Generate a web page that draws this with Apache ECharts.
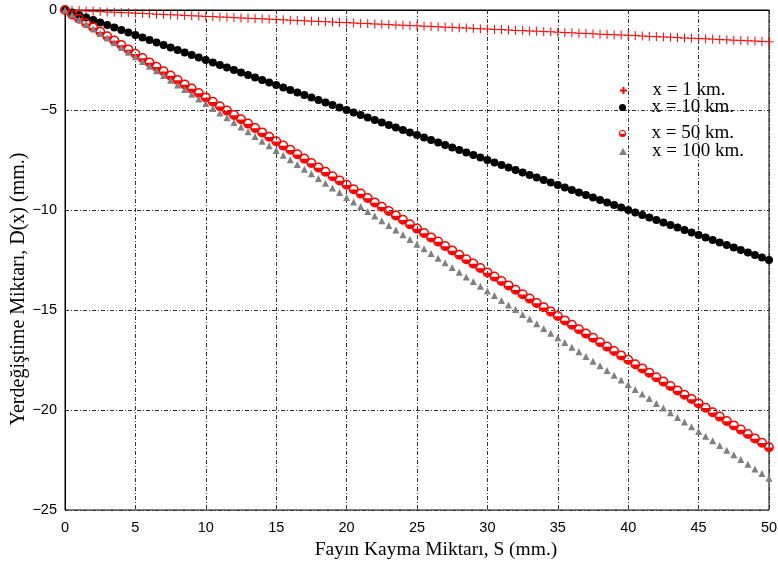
<!DOCTYPE html>
<html>
<head>
<meta charset="utf-8">
<script src="https://cdn.jsdelivr.net/npm/echarts@6/dist/echarts.min.js"></script>
<style>
  html, body { margin: 0; padding: 0; background: #fff; }
  #chart { width: 778px; height: 569px; }
</style>
</head>
<body>
<div id="chart"></div>
<script>
// fay kayma miktari S (mm.)
var slipS = [0,0.5,1,1.5,2,2.5,3,3.5,4,4.5,5,5.5,6,6.5,7,7.5,8,8.5,9,9.5,
  10,10.5,11,11.5,12,12.5,13,13.5,14,14.5,15,15.5,16,16.5,17,17.5,18,18.5,19,19.5,
  20,20.5,21,21.5,22,22.5,23,23.5,24,24.5,25,25.5,26,26.5,27,27.5,28,28.5,29,29.5,
  30,30.5,31,31.5,32,32.5,33,33.5,34,34.5,35,35.5,36,36.5,37,37.5,38,38.5,39,39.5,
  40,40.5,41,41.5,42,42.5,43,43.5,44,44.5,45,45.5,46,46.5,47,47.5,48,48.5,49,49.5,50];

// D(x) (mm.) for each distance
var dx1km = [0,-0.02,-0.03,-0.05,-0.06,-0.08,-0.10,-0.11,-0.13,-0.14,
  -0.16,-0.17,-0.19,-0.21,-0.22,-0.24,-0.25,-0.27,-0.29,-0.30,
  -0.32,-0.33,-0.35,-0.36,-0.38,-0.40,-0.41,-0.43,-0.44,-0.46,
  -0.48,-0.49,-0.51,-0.52,-0.54,-0.56,-0.57,-0.59,-0.60,-0.62,
  -0.63,-0.65,-0.67,-0.68,-0.70,-0.71,-0.73,-0.75,-0.76,-0.78,
  -0.79,-0.81,-0.82,-0.84,-0.86,-0.87,-0.89,-0.90,-0.92,-0.94,
  -0.95,-0.97,-0.98,-1.00,-1.02,-1.03,-1.05,-1.06,-1.08,-1.09,
  -1.11,-1.13,-1.14,-1.16,-1.17,-1.19,-1.21,-1.22,-1.24,-1.25,
  -1.27,-1.28,-1.30,-1.32,-1.33,-1.35,-1.36,-1.38,-1.40,-1.41,
  -1.43,-1.44,-1.46,-1.48,-1.49,-1.51,-1.52,-1.54,-1.55,-1.57,-1.59];

var dx10km = [0,-0.125,-0.25,-0.375,-0.5,-0.625,-0.75,-0.875,-1,-1.125,
  -1.25,-1.375,-1.5,-1.625,-1.75,-1.875,-2,-2.125,-2.25,-2.375,
  -2.5,-2.625,-2.75,-2.875,-3,-3.125,-3.25,-3.375,-3.5,-3.625,
  -3.75,-3.875,-4,-4.125,-4.25,-4.375,-4.5,-4.625,-4.75,-4.875,
  -5,-5.125,-5.25,-5.375,-5.5,-5.625,-5.75,-5.875,-6,-6.125,
  -6.25,-6.375,-6.5,-6.625,-6.75,-6.875,-7,-7.125,-7.25,-7.375,
  -7.5,-7.625,-7.75,-7.875,-8,-8.125,-8.25,-8.375,-8.5,-8.625,
  -8.75,-8.875,-9,-9.125,-9.25,-9.375,-9.5,-9.625,-9.75,-9.875,
  -10,-10.125,-10.25,-10.375,-10.5,-10.625,-10.75,-10.875,-11,-11.125,
  -11.25,-11.375,-11.5,-11.625,-11.75,-11.875,-12,-12.125,-12.25,-12.375,-12.5];

var dx50km = [0,-0.22,-0.44,-0.66,-0.87,-1.09,-1.31,-1.53,-1.75,-1.97,
  -2.19,-2.40,-2.62,-2.84,-3.06,-3.28,-3.50,-3.72,-3.93,-4.15,
  -4.37,-4.59,-4.81,-5.03,-5.25,-5.46,-5.68,-5.90,-6.12,-6.34,
  -6.56,-6.78,-6.99,-7.21,-7.43,-7.65,-7.87,-8.09,-8.31,-8.52,
  -8.74,-8.96,-9.18,-9.40,-9.62,-9.84,-10.05,-10.27,-10.49,-10.71,
  -10.93,-11.15,-11.37,-11.58,-11.80,-12.02,-12.24,-12.46,-12.68,-12.90,
  -13.12,-13.33,-13.55,-13.77,-13.99,-14.21,-14.43,-14.65,-14.86,-15.08,
  -15.30,-15.52,-15.74,-15.96,-16.18,-16.39,-16.61,-16.83,-17.05,-17.27,
  -17.49,-17.71,-17.92,-18.14,-18.36,-18.58,-18.80,-19.02,-19.24,-19.45,
  -19.67,-19.89,-20.11,-20.33,-20.55,-20.77,-20.98,-21.20,-21.42,-21.64,-21.86];

var dx100km = [0,-0.23,-0.47,-0.70,-0.94,-1.17,-1.40,-1.64,-1.87,-2.11,
  -2.34,-2.58,-2.81,-3.04,-3.28,-3.51,-3.75,-3.98,-4.21,-4.45,
  -4.68,-4.92,-5.15,-5.39,-5.62,-5.85,-6.09,-6.32,-6.56,-6.79,
  -7.02,-7.26,-7.49,-7.73,-7.96,-8.19,-8.43,-8.66,-8.90,-9.13,
  -9.37,-9.60,-9.83,-10.07,-10.30,-10.54,-10.77,-11.00,-11.24,-11.47,
  -11.71,-11.94,-12.18,-12.41,-12.64,-12.88,-13.11,-13.35,-13.58,-13.81,
  -14.05,-14.28,-14.52,-14.75,-14.98,-15.22,-15.45,-15.69,-15.92,-16.16,
  -16.39,-16.62,-16.86,-17.09,-17.33,-17.56,-17.79,-18.03,-18.26,-18.50,
  -18.73,-18.97,-19.20,-19.43,-19.67,-19.90,-20.14,-20.37,-20.60,-20.84,
  -21.07,-21.31,-21.54,-21.77,-22.01,-22.24,-22.48,-22.71,-22.95,-23.18,-23.41];

var seriesNames = ['x = 1 km.', 'x = 10 km.', 'x = 50 km.', 'x = 100 km.'];
var xTicks = [0, 50, 5];   // min, max, interval
var yTicks = [-25, 0, 5];

var chart = echarts.init(document.getElementById('chart'));

var plusPath = 'path://M5 0L5 10M0 5L10 5';
// halka + alt yarim dolgu
var ringPath = 'path://M0 10A10 10 0 1 1 20 10A10 10 0 1 1 0 10Z' +
  'M3 10A7 7 0 1 0 17 10A7 7 0 1 0 3 10Z' +
  'M3.02 10.5L16.98 10.5A7 7 0 0 1 3.02 10.5Z';

function pairs(ys){
  return slipS.map(function(s, i){ return [s, ys[i]]; });
}

var serif = '"Liberation Serif", "DejaVu Serif", serif';
var sans = '"Liberation Sans", Arial, sans-serif';
var gridDash = { color: '#333', width: 1, type: [4, 2, 1, 2] };

var legendRows = [76, 93, 119, 137];
var legends = seriesNames.map(function(name, i){
  return {
    data: [name],
    left: 614,
    top: legendRows[i],
    orient: 'vertical',
    itemWidth: 8,
    itemHeight: 7,
    selectedMode: false,
    textStyle: { fontFamily: serif, fontSize: 19, color: '#000', padding: [0, 0, 0, 20] }
  };
});

var option = {
  animation: false,
  backgroundColor: '#fff',
  legend: legends,
  grid: {
    left: 65, right: 9, top: 10, bottom: 59,
    outerBoundsMode: 'none',
    containLabel: false,
    show: true, borderColor: '#000', borderWidth: 1
  },
  xAxis: {
    type: 'value',
    min: xTicks[0], max: xTicks[1], interval: xTicks[2],
    name: 'Fayın Kayma Miktarı, S (mm.)',
    nameLocation: 'middle',
    nameGap: 30,
    nameMoveOverlap: false,
    nameTextStyle: { fontFamily: serif, fontSize: 19.5, color: '#000', padding: [0, 0, 0, 38] },
    axisLine: { lineStyle: { color: '#000' } },
    axisTick: { show: false },
    axisLabel: { fontFamily: sans, fontSize: 14.5, color: '#000', margin: 10 },
    splitLine: { lineStyle: gridDash }
  },
  yAxis: {
    type: 'value',
    min: yTicks[0], max: yTicks[1], interval: yTicks[2],
    name: 'Yerdeğiştime Miktarı, D(x) (mm.)',
    nameLocation: 'middle',
    nameGap: 36,
    nameMoveOverlap: false,
    nameTextStyle: { fontFamily: serif, fontSize: 20, color: '#000', padding: [0, 58, 0, 0] },
    axisLine: { lineStyle: { color: '#000' } },
    axisTick: { show: false },
    axisLabel: {
      fontFamily: sans, fontSize: 14.5, color: '#000', margin: 8,
      formatter: function(v){ return String(v).replace('-', '\u2212'); }
    },
    splitLine: { lineStyle: gridDash }
  },
  series: [
    {
      name: seriesNames[0], type: 'scatter', data: pairs(dx1km),
      symbol: plusPath, symbolSize: 9,
      itemStyle: { color: '#ff0000', borderColor: '#ff0000', borderWidth: 1, opacity: 1 }
    },
    {
      name: seriesNames[1], type: 'scatter', data: pairs(dx10km),
      symbol: 'circle', symbolSize: 8,
      itemStyle: { color: '#000', opacity: 1 }
    },
    {
      name: seriesNames[2], type: 'scatter', data: pairs(dx50km),
      symbol: ringPath, symbolSize: 10,
      itemStyle: { color: '#ff0000', opacity: 1 }
    },
    {
      name: seriesNames[3], type: 'scatter', data: pairs(dx100km),
      symbol: 'triangle', symbolSize: 7,
      itemStyle: { color: '#808080', opacity: 1 }
    }
  ]
};

chart.setOption(option);
</script>
</body>
</html>
